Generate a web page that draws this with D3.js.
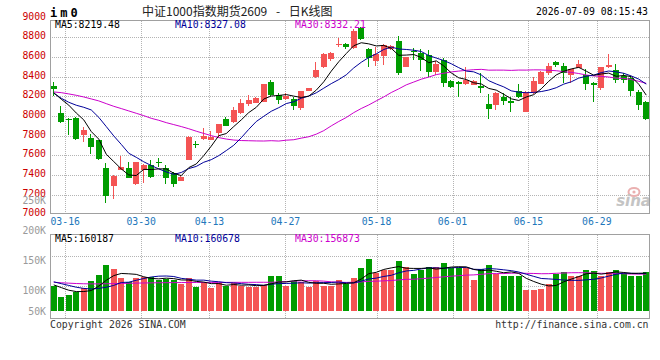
<!DOCTYPE html>
<html><head><meta charset="utf-8">
<script src="https://cdn.jsdelivr.net/npm/d3@7"></script>
<style>body{margin:0;background:#fff}svg{display:block}</style>
</head><body>
<svg id="c" width="660" height="360"></svg>
<script>
// ---------- data ----------
const dates = ["03-12","03-13","03-16","03-17","03-18","03-19","03-20","03-23","03-24","03-25","03-26","03-27",
"03-30","03-31","04-01","04-02","04-03","04-07","04-08","04-09","04-10",
"04-13","04-14","04-15","04-16","04-17","04-20","04-21","04-22","04-23","04-24",
"04-27","04-28","04-29","04-30","05-06","05-07","05-08","05-11","05-12","05-13","05-14","05-15",
"05-18","05-19","05-20","05-21","05-22","05-25","05-26","05-27","05-28","05-29",
"06-01","06-02","06-03","06-04","06-05","06-08","06-09","06-10","06-11","06-12",
"06-15","06-16","06-17","06-18","06-22","06-23","06-24","06-25","06-26",
"06-29","06-30","07-01","07-02","07-03","07-06","07-07","07-08"];
const open  = [8305,8034,7973,7983,7807,7773,7756,7471,7292,7451,7471,7305,7451,7505,7529,7471,7417,7342,7553,7716,
7763,7756,7830,7970,7942,8027,8122,8136,8146,8342,8214,8173,8170,8085,8254,8400,8495,8580,8722,8732,
8688,8892,8681,8560,8610,8681,8763,8502,8664,8637,8620,8444,8570,8359,8349,8325,8315,8305,8122,8112,
8197,8156,8254,8044,8230,8325,8434,8553,8509,8417,8492,8420,8339,8285,8495,8465,8403,8390,8242,8140];
const high  = [8342,8102,7980,7990,7885,7814,7760,7519,7396,7597,7536,7532,7508,7553,7570,7505,7434,7386,7793,7749,
7875,7851,7918,7993,8088,8170,8214,8190,8325,8366,8230,8230,8197,8258,8285,8553,8635,8654,8790,8740,
8880,8900,8690,8705,8730,8725,8814,8600,8688,8678,8671,8560,8587,8366,8360,8495,8370,8434,8224,8240,
8231,8197,8325,8250,8400,8460,8536,8563,8542,8480,8570,8480,8345,8500,8631,8530,8435,8410,8260,8148];
const low   = [8207,7932,7807,7756,7739,7614,7553,7119,7156,7448,7366,7295,7322,7373,7478,7308,7281,7339,7550,7671,
7760,7753,7780,7895,7932,8020,8102,8130,8140,8205,8122,8160,8061,8065,8250,8383,8490,8563,8698,8680,
8680,8775,8500,8510,8519,8670,8417,8495,8570,8461,8400,8420,8292,8281,8190,8315,8310,8237,7966,8061,
8112,8044,8180,8040,8225,8320,8417,8500,8339,8332,8485,8260,8146,8265,8485,8335,8340,8205,8060,7958];
const close = [8275,7942,7960,7766,7858,7681,7559,7190,7393,7485,7373,7529,7505,7383,7519,7373,7308,7383,7790,7705,
7797,7790,7915,7898,8061,8135,8163,8180,8322,8214,8163,8207,8102,8254,8281,8468,8631,8644,8732,8698,
8865,8783,8587,8627,8722,8715,8434,8597,8654,8570,8451,8529,8339,8298,8322,8366,8359,8281,8071,8237,
8153,8129,8197,8247,8356,8451,8512,8519,8434,8475,8529,8320,8310,8500,8519,8365,8365,8250,8112,7966];
const volume = [107700,89000,92600,96600,103000,116000,125700,142000,135700,121000,
113000,121000,122000,122000,117000,119000,117000,111000,121000,106000,
113000,104000,111700,107000,111700,107700,106000,106000,109000,124500,
123000,107000,116000,114000,106000,115000,107000,107700,117000,110000,
121000,138000,152500,128500,134000,134000,149000,138600,127000,134000,
138600,138600,145800,137000,137000,137000,117000,135700,142000,127000,
124500,124500,123000,100500,100500,102000,110000,127000,131000,123000,
123000,134000,132000,123000,131000,134000,128500,124500,124500,131000];
const ma5Lead  = [8237,8170,8110,8030];
const ma10Lead = [8231,8180,8139,8109,8088,8061,7986,7892,7797];
const ma30Lead = [8244,8237,8224,8210,8193,8173,8153,8125,8098,8075,8051,8027,8003,7976,7956,7932,7912,7892,7870,7845,
7822,7800,7780,7765,7755,7750,7748,7746,7745];
const vma5Lead  = [108900,104400,100000,97700];
const vma10Lead = [114000,111000,108000,105000,103000,102000,103000,105000,108000];
const vma30Lead = [113400,112500,111800,111200,110800,110600,110600,110800,111000,111300,111600,111900,112100,112300,112500,112600,112700,112800,112900,113000,
113000,113100,113100,113100,113200,113200,113200,113300,113300];
const tickLabels = ["03-16","03-30","04-13","04-27","05-18","06-01","06-15","06-29"];
const priceTicks = [9000,8800,8600,8400,8200,8000,7800,7600,7400,7200,7000];
const volTicks = [250000,200000,150000,100000,50000];
const volTickLabels = ["250K","200K","150K","100K","50K"];
const volGridTicks = [150000,100000];
const priceLegend = ["MA5:8219.48","MA10:8327.08","MA30:8332.21"];
const volLegend = ["MA5:160187","MA10:160678","MA30:156873"];
const maColors = ["#000000","#000099","#cc00cc"];
const titleText = "中证1000指数期货2609 - 日K线图";
const codeText = "im0";
const stampText = "2026-07-09 08:15:43";

// ---------- helpers ----------
function movingAvg(vals, n, lead){
  return vals.map((v,i)=> i < lead.length ? lead[i] : d3.mean(vals.slice(i-n+1,i+1)));
}
const ma5 = movingAvg(close,5,ma5Lead), ma10 = movingAvg(close,10,ma10Lead), ma30 = movingAvg(close,30,ma30Lead);
const vma5 = movingAvg(volume,5,vma5Lead), vma10 = movingAvg(volume,10,vma10Lead), vma30 = movingAvg(volume,30,vma30Lead);

const RED = "#f45454", GREEN = "#009c00";
const MONO = "'DejaVu Sans Mono', monospace";
const svg = d3.select("#c");
const idx = d3.range(dates.length);

const L = 50, R = 650;
const P = {top:20.5, bottom:213.5};
const V = {top:234.5, bottom:318};

const x = d3.scaleBand().domain(idx).range([L,R]).paddingInner(0.2).paddingOuter(0.1);
const xGrid = d3.scaleLinear().domain([0, dates.length-1]).range([L,R]);
const yP = d3.scaleLinear().domain([7000,9000]).range([214.3,17.6]);
const volBase = 66000;
const yV = d3.scaleLinear().domain([volBase,250000]).range([310.5,200.7]);
const cx = i => x(i) + x.bandwidth()/2;
const tickIdx = tickLabels.map(t => dates.indexOf(t));

// ---------- grid ----------
const grid = svg.append("g").attr("stroke","#b4b4b4").attr("stroke-dasharray","1,1").attr("shape-rendering","crispEdges");
priceTicks.filter(v => yP(v) > P.top+2 && yP(v) < P.bottom-1).forEach(v=>{
  const yy = Math.round(yP(v))+0.5;
  grid.append("line").attr("x1",L).attr("x2",R).attr("y1",yy).attr("y2",yy);
});
volGridTicks.forEach(v=>{
  const yy = Math.round(yV(v)-4.5)+0.5;
  grid.append("line").attr("x1",L).attr("x2",R).attr("y1",yy).attr("y2",yy);
});
tickIdx.forEach(i=>{
  const xx = Math.round(xGrid(i))+0.5;
  grid.append("line").attr("x1",xx).attr("x2",xx).attr("y1",P.top).attr("y2",P.bottom);
  grid.append("line").attr("x1",xx).attr("x2",xx).attr("y1",V.top).attr("y2",V.bottom);
});

// ---------- sina watermark ----------
const wm = svg.append("g");
wm.append("ellipse").attr("cx",634).attr("cy",192).attr("rx",5.5).attr("ry",4).attr("fill","none").attr("stroke","#eab0b0").attr("stroke-width",2);
wm.append("circle").attr("cx",634).attr("cy",192).attr("r",1.6).attr("fill","#eab0b0");
wm.append("text").attr("x",651).attr("y",206).attr("text-anchor","end")
  .attr("font-family","'DejaVu Sans', sans-serif").attr("font-size",15).attr("font-style","italic").attr("font-weight","bold")
  .attr("fill","#c4c4c4").text("sina");

// ---------- candles ----------
const bw = 6;
const cg = svg.append("g").attr("shape-rendering","crispEdges");
idx.forEach(i=>{
  const up = close[i] >= open[i];
  const col = up ? RED : GREEN;
  const left = Math.round(cx(i) - bw/2);
  const wx = left + 2.5;
  cg.append("line").attr("x1",wx).attr("x2",wx).attr("y1",yP(high[i])).attr("y2",yP(low[i])).attr("stroke",col);
  const top = yP(Math.max(open[i],close[i])), bot = yP(Math.min(open[i],close[i]));
  cg.append("rect").attr("x",left).attr("width",bw).attr("y",top).attr("height",Math.max(1,bot-top)).attr("fill",col);
});

// ---------- volume bars ----------
const vg = svg.append("g").attr("shape-rendering","crispEdges");
idx.forEach(i=>{
  const up = close[i] >= open[i];
  const left = Math.round(cx(i) - bw/2);
  vg.append("rect").attr("x",left).attr("width",bw).attr("y",yV(volume[i]))
    .attr("height",yV(volBase)-yV(volume[i])).attr("fill", up ? RED : GREEN);
});

// ---------- MA lines ----------
const lineP = d3.line().x((d,i)=>cx(i)).y(d=>yP(d));
const lineV = d3.line().x((d,i)=>cx(i)).y(d=>yV(d));
[ma30,ma10,ma5].forEach((s,k)=>{
  svg.append("path").attr("d",lineP(s)).attr("fill","none").attr("stroke",[maColors[2],maColors[1],maColors[0]][k]).attr("stroke-width",1);
});
[vma30,vma10,vma5].forEach((s,k)=>{
  svg.append("path").attr("d",lineV(s)).attr("fill","none").attr("stroke",[maColors[2],maColors[1],maColors[0]][k]).attr("stroke-width",1);
});

// ---------- frames ----------
const fr = svg.append("g").attr("fill","none").attr("stroke","#a0a0a0").attr("shape-rendering","crispEdges");
fr.append("rect").attr("x",L+0.5).attr("y",P.top).attr("width",R-L-1).attr("height",P.bottom-P.top);
fr.append("rect").attr("x",L+0.5).attr("y",V.top).attr("width",R-L-1).attr("height",V.bottom-V.top);

// ---------- texts ----------
const T = (x0,y0,str,opt={}) => svg.append("text").attr("x",x0).attr("y",y0)
  .attr("font-family",opt.ff||MONO).attr("font-size",opt.fs||9.8).attr("fill",opt.fill||"#000")
  .attr("text-anchor",opt.anchor||"start").attr("font-weight",opt.fw||"normal").text(str);

priceTicks.forEach(v => T(46, yP(v)+2, String(v), {anchor:"end", fill:"#cc0000"}));
volTicks.forEach((v,k) => T(46, Math.min(yV(v), 311.2)+3.5, volTickLabels[k], {anchor:"end", fill:"#9a9a9a"}));
tickIdx.forEach((i,k) => T(xGrid(i), 224.5, tickLabels[k], {anchor:"middle", fill:"#2277bb"}));

const legX = [55,175,295];
priceLegend.forEach((s,k)=> T(legX[k], 27.6, s, {fill:maColors[k]}));
volLegend.forEach((s,k)=> T(legX[k], 241.8, s, {fill:maColors[k]}));

T(50, 17, codeText, {fs:12, fw:"bold"}).attr("letter-spacing",3);
T(142, 15.5, titleText, {ff:"'Noto Sans CJK SC', sans-serif", fs:12, fill:"#222"}).attr("word-spacing",6);
T(648, 15, stampText, {anchor:"end"});
T(50, 327.5, "Copyright 2026 SINA.COM", {fill:"#333"});
T(648.5, 327.5, "http://finance.sina.com.cn", {anchor:"end", fill:"#333"});
</script>
</body></html>
